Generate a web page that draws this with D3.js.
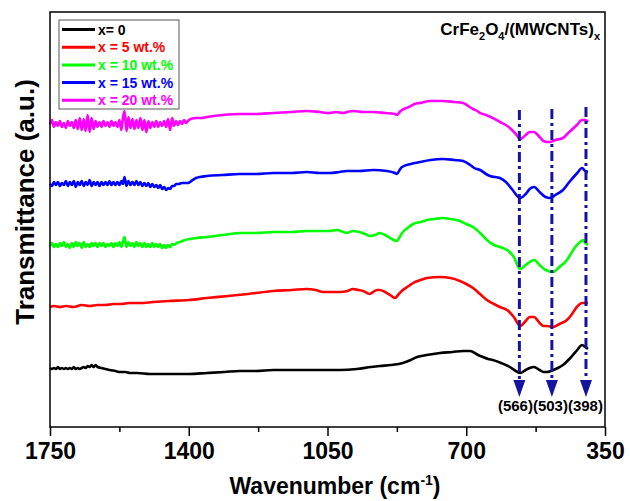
<!DOCTYPE html>
<html>
<head>
<meta charset="utf-8">
<script src="https://cdn.jsdelivr.net/npm/d3@7"></script>
<style>
  body { margin: 0; background: #fff; }
  svg { display: block; font-family: "Liberation Sans", Arial, sans-serif; font-weight: bold; }
</style>
</head>
<body>
<script>
// legend entries
const seriesNames = ["x= 0", "x = 5 wt.%", "x = 10 wt.%", "x = 15 wt.%", "x = 20 wt.%"];
const seriesColors = ["#000000", "#ff0000", "#00ff00", "#0000ff", "#ff00ff"];

// spectra, [wavenumber, transmittance a.u. with offset]
const s0 = [[1750,59],[1745,58],[1740,59],[1735,58],[1730,60],[1725,58],[1720,59],[1715,58],[1710,59],[1705,58],[1700,59],[1695,58],[1690,60],[1685,58],[1680,59],[1675,58],[1670,59],[1665,60],[1660,59],[1655,61],[1650,60],[1645,62],[1640,60],[1635,62],[1630,60],[1620,59],[1610,58],[1600,57],[1585,56],[1573,55],[1560,55],[1548,54],[1530,54],[1498,53],[1470,53],[1447,53],[1400,53],[1354,54],[1310,55],[1271,56],[1230,56],[1187,57],[1140,57],[1102,57],[1061,57],[1018,57],[976,58],[940,60],[918,61],[890,62],[860,64],[840,67],[824,70],[800,72],[766,74],[735,75],[708,76],[690,76],[683,75],[670,72],[658,70],[645,68],[633,67],[612,64],[590,60],[575,56],[564,54],[550,57],[540,59],[529,60],[515,57],[505,55],[496,55],[480,57],[456,62],[440,68],[431,72],[420,77],[408,82],[400,80],[393,78]];

const s5 = [[1750,120],[1740,121],[1725,120],[1710,121],[1690,120],[1670,122],[1650,121],[1630,122],[1610,122],[1590,123],[1570,123],[1550,124],[1523,124],[1490,125],[1450,126],[1400,127],[1354,129],[1300,131],[1250,133],[1187,136],[1140,137],[1102,138],[1080,137],[1061,135],[1040,135],[1018,135],[1000,136],[986,138],[972,137],[960,136],[950,134],[943,133],[935,135],[925,137],[918,137],[905,135],[892,132],[880,129],[870,133],[860,137],[845,141],[834,144],[815,147],[799,149],[766,150],[740,149],[716,146],[700,143],[683,139],[665,133],[648,127],[630,123],[615,120],[597,117],[580,110],[564,101],[550,106],[540,110],[529,110],[515,104],[505,101],[496,101],[481,100],[465,103],[446,107],[435,112],[421,120],[408,124],[393,124]];

const s10 = [[1750,181],[1745,184],[1740,180],[1735,183],[1730,180],[1725,184],[1720,181],[1715,185],[1710,180],[1705,183],[1700,179],[1695,184],[1690,180],[1685,185],[1680,181],[1675,184],[1670,179],[1665,185],[1660,180],[1655,183],[1650,180],[1645,184],[1640,181],[1635,184],[1630,180],[1625,184],[1620,181],[1615,184],[1610,180],[1605,183],[1600,181],[1595,184],[1590,180],[1585,184],[1580,181],[1575,185],[1570,180],[1566,185],[1562,190],[1557,180],[1552,185],[1547,181],[1542,184],[1537,180],[1532,185],[1527,181],[1522,184],[1517,180],[1512,184],[1507,180],[1502,183],[1497,180],[1492,184],[1487,180],[1482,183],[1477,180],[1472,183],[1467,179],[1462,182],[1457,179],[1452,182],[1447,180],[1442,183],[1437,182],[1430,184],[1422,185],[1410,187],[1397,188],[1380,189],[1354,190],[1314,192],[1271,194],[1230,194],[1187,195],[1140,195],[1102,196],[1070,196],[1044,196],[1026,197],[1010,195],[1001,194],[994,195],[986,196],[970,195],[955,193],[943,191],[930,192],[918,194],[905,192],[892,189],[883,187],[875,186],[868,190],[860,195],[848,199],[834,203],[815,205],[799,207],[780,208],[759,209],[740,208],[716,206],[700,203],[683,200],[665,194],[648,187],[630,182],[615,180],[597,177],[580,170],[564,158],[550,162],[540,165],[529,167],[515,162],[500,157],[481,155],[465,160],[446,167],[438,172],[425,180],[413,185],[405,187],[400,184],[393,182]];

const s15 = [[1750,243],[1745,241],[1740,245],[1735,242],[1730,245],[1725,241],[1720,244],[1715,242],[1710,246],[1705,241],[1700,245],[1695,242],[1690,246],[1685,240],[1680,245],[1675,242],[1670,246],[1665,241],[1660,245],[1655,242],[1650,247],[1645,241],[1640,245],[1635,242],[1630,245],[1625,241],[1620,245],[1615,242],[1610,245],[1605,242],[1600,246],[1595,242],[1590,245],[1585,242],[1580,245],[1575,242],[1570,246],[1566,243],[1562,250],[1557,241],[1552,246],[1547,242],[1542,245],[1537,242],[1532,246],[1527,242],[1522,245],[1517,241],[1512,244],[1507,241],[1502,244],[1497,240],[1492,243],[1487,240],[1482,242],[1477,239],[1472,242],[1467,238],[1462,240],[1457,237],[1452,239],[1447,238],[1442,241],[1437,241],[1432,243],[1425,243],[1418,244],[1410,244],[1402,244],[1397,245],[1390,247],[1382,249],[1372,250],[1354,251],[1314,252],[1271,253],[1230,253],[1187,254],[1140,254],[1102,255],[1070,254],[1044,254],[1020,255],[1001,256],[970,256],[935,257],[900,256],[880,254],[875,253],[868,257],[862,260],[840,263],[817,265],[790,267],[759,268],[730,267],[708,266],[690,262],[680,259],[665,257],[650,253],[640,251],[615,249],[600,245],[585,238],[564,229],[550,233],[540,238],[529,240],[515,235],[500,230],[489,229],[475,232],[456,237],[440,245],[420,254],[408,259],[400,256],[393,255]];

const s20 = [[1750,303],[1745,307],[1740,300],[1735,305],[1730,301],[1725,306],[1720,300],[1715,304],[1710,299],[1705,306],[1700,301],[1695,305],[1690,299],[1685,307],[1680,298],[1675,309],[1670,297],[1665,308],[1660,296],[1655,312],[1650,295],[1645,309],[1640,298],[1635,306],[1630,300],[1625,305],[1620,300],[1615,306],[1610,301],[1605,305],[1600,300],[1595,306],[1590,301],[1585,305],[1580,300],[1575,307],[1570,297],[1566,309],[1562,316],[1557,296],[1552,310],[1547,299],[1542,308],[1537,298],[1532,307],[1527,299],[1522,309],[1517,297],[1512,307],[1507,295],[1502,306],[1497,299],[1492,305],[1487,300],[1482,306],[1477,300],[1472,305],[1467,301],[1462,306],[1457,300],[1452,308],[1447,297],[1442,309],[1437,301],[1432,306],[1427,302],[1422,306],[1417,303],[1412,307],[1407,304],[1400,307],[1395,308],[1383,309],[1370,309],[1354,310],[1314,312],[1271,313],[1230,313],[1187,314],[1140,315],[1102,316],[1070,315],[1044,314],[1030,315],[1010,314],[1001,315],[985,316],[960,315],[935,315],[905,314],[880,313],[875,312],[868,315],[862,317],[845,320],[830,323],[817,324],[790,326],[759,326],[730,325],[708,324],[695,321],[683,318],[672,316],[665,314],[650,312],[633,309],[615,305],[600,302],[590,299],[575,293],[564,288],[550,292],[540,295],[529,295],[515,290],[505,286],[496,285],[489,285],[475,287],[456,289],[440,295],[421,302],[408,307],[400,307],[393,305]];

const series = [s0, s5, s10, s15, s20];

// band markers: where the dash-dot arrows are drawn, and their labels
const bandPos = [566, 484, 398];
const bandTop = [317, 318, 320];
const bandTip = 30;
const bandLabel = "(566)(503)(398)";

const majorTicks = [1750, 1400, 1050, 700, 350];
const minorTicks = [1575, 1225, 875, 525];

(function() {
    const width = 630;
    const height = 501;
    const navy = "#1414a0";

    const x = d3.scaleLinear().domain([1750, 350]).range([50, 605]);
    const y = d3.scaleLinear().domain([0, 415]).range([427, 12]);

    const svg = d3.select("body").append("svg")
    .attr("width", width)
    .attr("height", height);

    const line = d3.line()
    .x(d => x(d[0]))
    .y(d => y(d[1]))
    .curve(d3.curveMonotoneX);

    svg.append("g")
    .selectAll("path")
    .data(series)
    .join("path")
    .attr("fill", "none")
    .attr("stroke", (d, i) => seriesColors[i])
    .attr("stroke-width", 2.6)
    .attr("stroke-linejoin", "round")
    .attr("d", line);

    // dash-dot markers with arrow heads
    const marks = svg.append("g");
    bandPos.forEach((p, i) => {
        marks.append("line")
        .attr("x1", x(p)).attr("x2", x(p))
        .attr("y1", y(bandTop[i]))
        .attr("y2", y(bandTip) - 14)
        .attr("stroke", navy)
        .attr("stroke-width", 3)
        .attr("stroke-dasharray", "10,4,3,4");
        marks.append("path")
        .attr("d", `M${x(p) - 6},${y(bandTip) - 17}L${x(p) + 6},${y(bandTip) - 17}L${x(p)},${y(bandTip)}Z`)
        .attr("fill", navy);
    });
    svg.append("text")
    .attr("x", x(398) + 17)
    .attr("y", 411)
    .attr("text-anchor", "end")
    .style("font-size", "15px")
    .text(bandLabel);

    // frame
    svg.append("rect")
    .attr("x", 50).attr("y", 12)
    .attr("width", 555).attr("height", 415)
    .attr("fill", "none")
    .attr("stroke", "#000")
    .attr("stroke-width", 1.5);

    const xAxis = svg.append("g")
    .attr("transform", "translate(0,427)")
    .call(d3.axisBottom(x).tickValues(majorTicks).tickSize(9).tickFormat(d3.format("d")));
    xAxis.select(".domain").remove();
    xAxis.selectAll("line").attr("stroke-width", 1.5);
    xAxis.selectAll("text")
    .attr("y", 32).attr("dy", 0)
    .attr("fill", "#000")
    .style("font-size", "23px")
    .style("font-weight", "bold")
    .style("font-family", "'Liberation Sans', Arial, sans-serif");

    const xMinor = svg.append("g")
    .attr("transform", "translate(0,427)")
    .call(d3.axisBottom(x).tickValues(minorTicks).tickSize(5).tickFormat(""));
    xMinor.select(".domain").remove();
    xMinor.selectAll("line").attr("stroke-width", 1.5);

    // axis titles
    const xt = svg.append("text")
    .attr("x", 335).attr("y", 494)
    .attr("text-anchor", "middle")
    .style("font-size", "23px");
    xt.append("tspan").text("Wavenumber (cm");
    xt.append("tspan").attr("dy", -9).style("font-size", "14px").text("-1");
    xt.append("tspan").attr("dy", 9).text(")");

    svg.append("text")
    .attr("transform", "translate(34,202) rotate(-90)")
    .attr("text-anchor", "middle")
    .style("font-size", "26px")
    .text("Transmittance (a.u.)");

    // compound label
    const tt = svg.append("text")
    .attr("x", 600).attr("y", 35)
    .attr("text-anchor", "end")
    .style("font-size", "17px");
    tt.append("tspan").text("CrFe");
    tt.append("tspan").attr("dy", 5).style("font-size", "11px").text("2");
    tt.append("tspan").attr("dy", -5).text("O");
    tt.append("tspan").attr("dy", 5).style("font-size", "11px").text("4");
    tt.append("tspan").attr("dy", -5).text("/(MWCNTs)");
    tt.append("tspan").attr("dy", 5).style("font-size", "11px").text("x");

    // legend
    const legend = svg.append("g");
    legend.append("rect")
    .attr("x", 59).attr("y", 20)
    .attr("width", 120).attr("height", 89)
    .attr("fill", "#fff")
    .attr("stroke", "#555")
    .attr("stroke-width", 1);
    const item = legend.selectAll("g.item")
    .data(seriesNames)
    .join("g")
    .attr("class", "item")
    .attr("transform", (d, i) => `translate(0,${29.5 + i * 17.7})`);
    item.append("line")
    .attr("x1", 62).attr("x2", 95)
    .attr("stroke", (d, i) => seriesColors[i])
    .attr("stroke-width", 3);
    item.append("text")
    .attr("x", 98).attr("y", 5)
    .attr("fill", (d, i) => seriesColors[i])
    .style("font-size", "14px")
    .text(d => d);
})();
</script>
</body>
</html>
